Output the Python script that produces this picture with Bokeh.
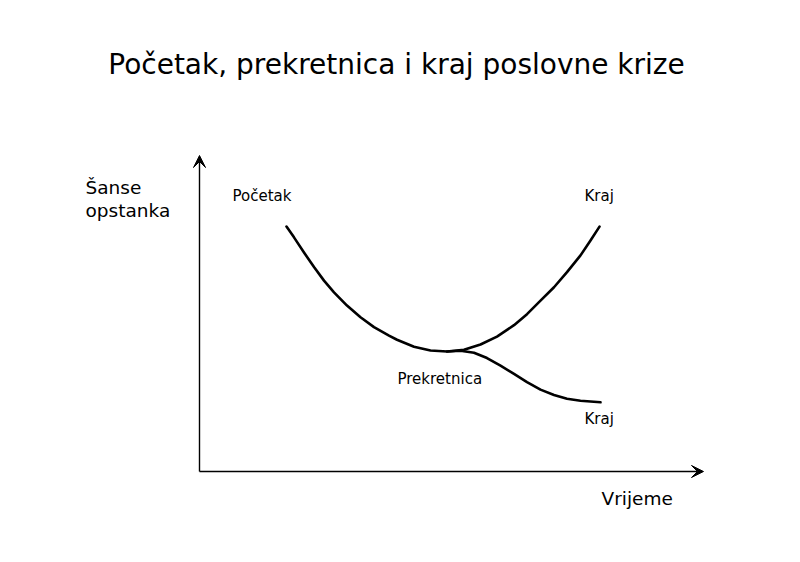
from bokeh.plotting import figure
from bokeh.models import Range1d, Arrow, VeeHead, Label
from bokeh.embed import file_html
from bokeh.resources import INLINE

# --- data ---
title_text = "Početak, prekretnica i kraj poslovne krize"
y_label = ["Šanse", "opstanka"]
x_label = "Vrijeme"

upper_t = [1.74, 1.89, 2.09, 2.29, 2.49, 2.69, 2.95, 3.22, 3.49, 3.79, 3.95,
           4.29, 4.62, 4.95, 5.29, 5.62, 5.95, 6.29, 6.55, 6.82, 7.09, 7.35,
           7.62, 7.82, 8.00]
upper_s = [7.75, 7.41, 6.93, 6.47, 6.04, 5.67, 5.25, 4.88, 4.57, 4.30, 4.17,
           3.95, 3.83, 3.80, 3.85, 4.02, 4.27, 4.63, 4.98, 5.41, 5.83, 6.31,
           6.84, 7.31, 7.75]

lower_t = [4.95, 5.22, 5.49, 5.75, 6.02, 6.29, 6.55, 6.82, 7.09, 7.35, 7.62, 8.02]
lower_s = [3.80, 3.82, 3.76, 3.59, 3.35, 3.09, 2.83, 2.59, 2.42, 2.30, 2.24, 2.19]

axis_x_end = 10.08
axis_y_end = 10.0

FONT = "DejaVu Sans"

p = figure(width=784, height=546, x_range=Range1d(-3.98, 11.70),
           y_range=Range1d(-2.373, 14.905), min_border=0,
           toolbar_location=None, output_backend="svg")
p.axis.visible = False
p.grid.visible = False
p.outline_line_color = None
p.background_fill_color = "white"
p.border_fill_color = "white"

# axes with arrow heads
p.add_layout(Arrow(x_start=0, y_start=0, x_end=axis_x_end, y_end=0,
                   line_color="black", line_width=1.4,
                   end=VeeHead(size=12, fill_color="black", line_color="black", line_width=1)))
p.add_layout(Arrow(x_start=0, y_start=0, x_end=0, y_end=axis_y_end,
                   line_color="black", line_width=1.4,
                   end=VeeHead(size=12, fill_color="black", line_color="black", line_width=1)))

# curves
p.line(upper_t, upper_s, line_color="black", line_width=2.6, line_cap="round", line_join="round")
p.line(lower_t, lower_s, line_color="black", line_width=2.6, line_cap="round", line_join="round")

def lab(x, y, txt, size, align="left"):
    p.add_layout(Label(x=x, y=y, text=txt, text_font=FONT, text_font_size=size,
                       text_color="black", text_align=align, text_baseline="alphabetic"))

lab(3.94, (471 - 64) / 31.6, title_text, "28px", "center")
lab(-2.28, (471 - 187.3) / 31.6, y_label[0], "18.5px")
lab(-2.28, (471 - 210) / 31.6, y_label[1], "18.5px")
lab((601 - 199) / 50, (471 - 497.5) / 31.6, x_label, "18.5px")
lab((232 - 199) / 50, (471 - 195) / 31.6, "Početak", "15px")
lab((584 - 199) / 50, (471 - 195.5) / 31.6, "Kraj", "15px")
lab((397 - 199) / 50, (471 - 378) / 31.6, "Prekretnica", "15px")
lab((584 - 199) / 50, (471 - 418.5) / 31.6, "Kraj", "15px")

open("out.html", "w").write(file_html(p, INLINE))
